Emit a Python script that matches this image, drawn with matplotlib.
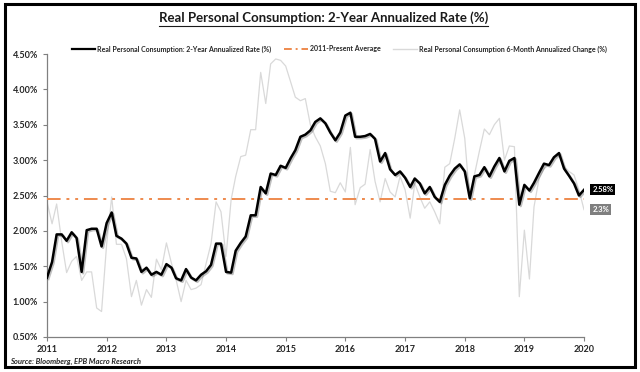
import numpy as np
import pandas as pd
import matplotlib
matplotlib.use("Agg")
import matplotlib.pyplot as plt
import matplotlib.dates as mdates
import matplotlib.patheffects as pe
from matplotlib.lines import Line2D
from matplotlib.patches import Rectangle

plt.rcParams['font.family'] = ['Lato', 'DejaVu Sans']

# ── data (monthly, Jan 2011 .. Jan 2020) ──
dates = pd.date_range("2011-01-01", periods=109, freq="MS")

rate_2y = [
    1.34, 1.56, 1.95, 1.95, 1.86, 1.98, 1.90, 1.42, 2.01, 2.03, 2.03, 1.78,
    2.11, 2.26, 1.93, 1.89, 1.82, 1.62, 1.61, 1.42, 1.48, 1.38, 1.42, 1.38,
    1.53, 1.48, 1.33, 1.30, 1.46, 1.34, 1.30, 1.38, 1.43, 1.52, 1.82, 1.82,
    1.42, 1.41, 1.72, 1.83, 1.92, 2.22, 2.22, 2.62, 2.53, 2.81, 2.79, 2.92,
    2.89, 3.03, 3.14, 3.33, 3.36, 3.42, 3.54, 3.59, 3.52, 3.39, 3.28, 3.39,
    3.63, 3.67, 3.33, 3.33, 3.34, 3.37, 3.30, 2.98, 3.10, 2.87, 2.79, 2.84,
    2.75, 2.62, 2.74, 2.67, 2.53, 2.62, 2.48, 2.41, 2.65, 2.78, 2.88, 2.94,
    2.84, 2.46, 2.77, 2.79, 2.90, 2.77, 2.91, 3.03, 2.84, 2.99, 3.03, 2.37,
    2.65, 2.57, 2.68, 2.82, 2.95, 2.93, 3.04, 3.10, 2.88, 2.78, 2.67, 2.50,
    2.58,
]

change_6m = [
    2.41, 2.10, 2.38, 1.85, 1.41, 1.57, 1.64, 1.30, 1.42, 1.42, 0.91, 0.86,
    1.81, 2.48, 1.81, 1.81, 1.61, 1.07, 1.30, 0.95, 1.17, 1.06, 1.60, 1.45,
    1.83, 1.54, 1.31, 1.00, 1.30, 1.17, 1.19, 1.24, 1.54, 1.82, 2.41, 2.27,
    1.64, 2.44, 2.77, 3.05, 3.07, 3.43, 3.43, 4.24, 3.80, 4.36, 4.43, 4.41,
    4.33, 4.10, 3.89, 3.84, 3.87, 3.50, 3.33, 3.20, 2.95, 2.56, 2.54, 2.68,
    2.55, 3.18, 2.37, 2.61, 2.66, 3.15, 2.70, 2.41, 2.74, 2.55, 2.48, 2.77,
    2.58, 2.18, 2.67, 2.48, 2.32, 2.41, 2.27, 2.10, 2.90, 2.95, 3.31, 3.71,
    3.31, 2.44, 2.79, 3.13, 3.44, 3.36, 3.50, 3.59, 3.00, 3.20, 3.19, 1.07,
    2.01, 1.32, 2.34, 2.74, 2.88, 2.93, 3.05, 3.06, 2.91, 2.84, 2.79, 2.58,
    2.30,
]

avg_2011 = 2.45

# ── figure ──
fig = plt.figure(figsize=(6.4, 3.72), dpi=100)
ax = fig.add_axes([47 / 640, 1 - 337 / 372, 537 / 640, 283 / 372])

ax.plot(dates, change_6m, color="#D9D9D9", lw=0.9, zorder=2)
ax.axhline(avg_2011, color="#EE8A4E", lw=1.4, dashes=(7, 3, 1.5, 3, 1.5, 3), zorder=3)
ax.plot(dates, rate_2y, color="black", lw=1.8, zorder=4,
        path_effects=[pe.SimpleLineShadow(offset=(1, -1), alpha=0.25), pe.Normal()])

ax.set_xlim(pd.Timestamp("2011-01-01"), pd.Timestamp("2020-01-01"))
ax.set_ylim(0.5, 4.5)
ax.set_yticks(np.arange(0.5, 4.51, 0.5))
ax.yaxis.set_major_formatter(plt.FuncFormatter(lambda v, p: f"{v:.2f}%"))
ax.xaxis.set_major_locator(mdates.YearLocator())
ax.xaxis.set_major_formatter(mdates.DateFormatter("%Y"))

for s in ["top", "right"]:
    ax.spines[s].set_visible(False)
for s in ["left", "bottom"]:
    ax.spines[s].set_color("#808080")
    ax.spines[s].set_linewidth(0.9)
ax.tick_params(axis="both", colors="#808080", labelcolor="#262626",
               labelsize=6.5, length=3, width=0.8)
for lab in ax.get_xticklabels() + ax.get_yticklabels():
    lab.set_fontweight("bold")
ax.tick_params(axis="x", pad=3)

# end-point labels
ax.annotate(f"{rate_2y[-1]:.2f}%", xy=(dates[-1], rate_2y[-1]), xytext=(6, 0),
            textcoords="offset points", va="center", ha="left", color="white",
            fontsize=5.5, fontweight="bold",
            bbox=dict(boxstyle="square,pad=0.25", fc="black", ec="none"))
ax.annotate(f"{change_6m[-1]:.1f}%", xy=(dates[-1], change_6m[-1]), xytext=(6, 0),
            textcoords="offset points", va="center", ha="left", color="white",
            fontsize=5.5, fontweight="bold",
            bbox=dict(boxstyle="square,pad=0.25", fc="#7F7F7F", ec="none"))

# legend
handles = [
    Line2D([], [], color="black", lw=1.6),
    Line2D([], [], color="#EE8A4E", lw=1.4, dashes=(4, 2, 1, 2)),
    Line2D([], [], color="#D9D9D9", lw=1.0),
]
labels = ["Real Personal Consumption: 2-Year Annualized Rate (%)",
          "2011-Present Average",
          "Real Personal Consumption 6-Month Annualized Change (%)"]
leg = fig.legend(handles, labels, loc="center", ncol=3, frameon=False,
                 bbox_to_anchor=(0.53, 1 - 49 / 372), fontsize=5,
                 handlelength=3.4, handletextpad=0.3, columnspacing=1.8)
for t in leg.get_texts():
    t.set_fontweight("bold")
    t.set_color("#262626")

# title with underline
title = fig.text(0.505, 1 - 18 / 372,
                 "Real Personal Consumption: 2-Year Annualized Rate (%)",
                 ha="center", va="center", fontsize=9.5, fontweight="bold",
                 color="#1a1a1a")
fig.canvas.draw()
bb = title.get_window_extent().transformed(fig.transFigure.inverted())
fig.add_artist(Line2D([bb.x0, bb.x1], [bb.y0 - 0.004, bb.y0 - 0.004],
                      color="#1a1a1a", lw=0.8, transform=fig.transFigure))

fig.text(10 / 640, 1 - 361 / 372, "Source: Bloomberg, EPB Macro Research",
         ha="left", va="center", fontsize=5.5, fontweight="bold",
         style="italic", color="#262626")

# outer frame
fig.add_artist(Rectangle((5 / 640, 5 / 372), 630 / 640, 363 / 372, fill=False,
                         ec="black", lw=2.2, transform=fig.transFigure))

fig.savefig("out.png", dpi=100)
